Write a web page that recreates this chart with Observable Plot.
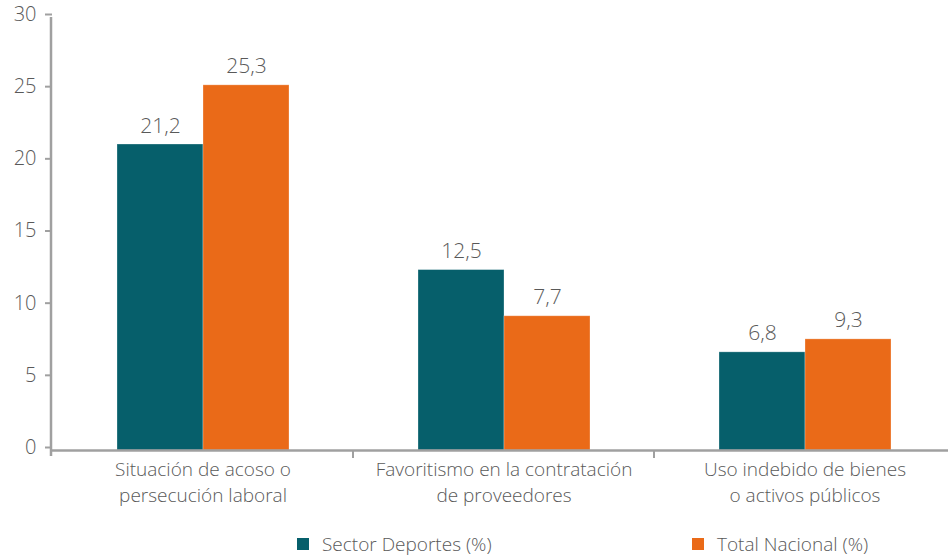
<!DOCTYPE html>
<html><head><meta charset="utf-8">
<script src="https://cdn.jsdelivr.net/npm/d3@7"></script>
<script src="https://cdn.jsdelivr.net/npm/@observablehq/plot@0.6"></script>
<style>
body{margin:0;background:#fff;font-family:"Open Sans",sans-serif;font-weight:300;}
#chart{position:relative;width:948px;overflow:hidden;}
#legend{position:relative;height:36px;font-size:19px;color:#595959;}
.item{position:absolute;top:10px;height:28px;line-height:28px;display:flex;align-items:center;white-space:nowrap;}
.sw{width:12px;height:12px;margin-right:13px;flex:none;}
</style></head>
<body>
<div id="chart"></div>
<div id="legend"></div>
<script>
const categories = ["Situación de acoso o persecución laboral", "Favoritismo en la contratación de proveedores", "Uso indebido de bienes o activos públicos"];
const categoryLines = ["Situación de acoso o\npersecución laboral", "Favoritismo en la contratación\nde proveedores", "Uso indebido de bienes\no activos públicos"];
const series = ["Sector Deportes (%)", "Total Nacional (%)"];
const sectorValues = [21.2, 12.5, 6.8];
const totalValues = [25.3, 9.3, 7.7];
const sectorLabels = ["21,2", "12,5", "6,8"];
const totalLabels = ["25,3", "7,7", "9,3"];
const yTicks = [0, 5, 10, 15, 20, 25, 30];
const colors = ["#065f6b", "#ea6a18"];

const data = [];
categories.forEach((c, i) => {
  data.push({category: c, series: series[0], value: sectorValues[i], label: sectorLabels[i]});
  data.push({category: c, series: series[1], value: totalValues[i], label: totalLabels[i]});
});

const textColor = "#595959";
const axisColor = "#a0a0a0";
const font = "Open Sans, sans-serif";

const plot = Plot.plot({
  width: 948,
  height: 520,
  marginLeft: 51,
  marginRight: -7,
  marginTop: 17,
  marginBottom: 70,
  style: {fontFamily: font, fontWeight: 300, color: textColor, overflow: "visible"},
  fx: {domain: categories, padding: 0, axis: null},
  x: {domain: series, paddingInner: 0, paddingOuter: 0.75, axis: null},
  y: {domain: [0, 30], axis: null},
  color: {domain: series, range: colors},
  marks: [
    Plot.barY(data, {fx: "category", x: "series", y: "value", fill: "series", stroke: "#ffffff", strokeOpacity: 0.35, strokeWidth: 0.8}),
    Plot.text(data, {fx: "category", x: "series", y: "value", text: "label", dy: -12, lineAnchor: "bottom", fontSize: 21, fill: textColor}),
    Plot.ruleY([0], {stroke: axisColor, strokeWidth: 2.5}),
    Plot.axisY({ticks: yTicks, tickSize: 7, tickPadding: 9, fontSize: 20, stroke: axisColor, strokeWidth: 2, fill: textColor, label: null, tickFormat: d => String(d), dy: -3}),
    Plot.axisFx({anchor: "bottom", tickSize: 0, tickPadding: 7, fontSize: 19, lineHeight: 1.37, label: null, fill: textColor, tickFormat: d => categoryLines[categories.indexOf(d)]})
  ]
});
document.getElementById("chart").appendChild(plot);

// axis lines and category separators placed from the plot's own scales
const svg = d3.select(plot.tagName.toLowerCase() === "svg" ? plot : plot.querySelector("svg"));
const ys = plot.scale("y");
const fxs = plot.scale("fx");
const x0 = fxs.range ? Math.min(...fxs.range) : 51;
svg.append("line")
  .attr("x1", x0).attr("x2", x0)
  .attr("y1", ys.apply(30)).attr("y2", ys.apply(0) + 6)
  .attr("stroke", axisColor).attr("stroke-width", 2.5);
categories.slice(1).forEach(c => {
  const xb = fxs.apply(c);
  svg.append("line")
    .attr("x1", xb).attr("x2", xb)
    .attr("y1", ys.apply(0)).attr("y2", ys.apply(0) + 8)
    .attr("stroke", axisColor).attr("stroke-width", 2);
});

// legend
const legendPos = [297, 692];
const legend = document.getElementById("legend");
series.forEach((s, i) => {
  const it = document.createElement("div");
  it.className = "item";
  it.style.left = legendPos[i] + "px";
  it.innerHTML = `<span class="sw" style="background:${colors[i]}"></span><span>${s}</span>`;
  legend.appendChild(it);
});
</script>
</body></html>
